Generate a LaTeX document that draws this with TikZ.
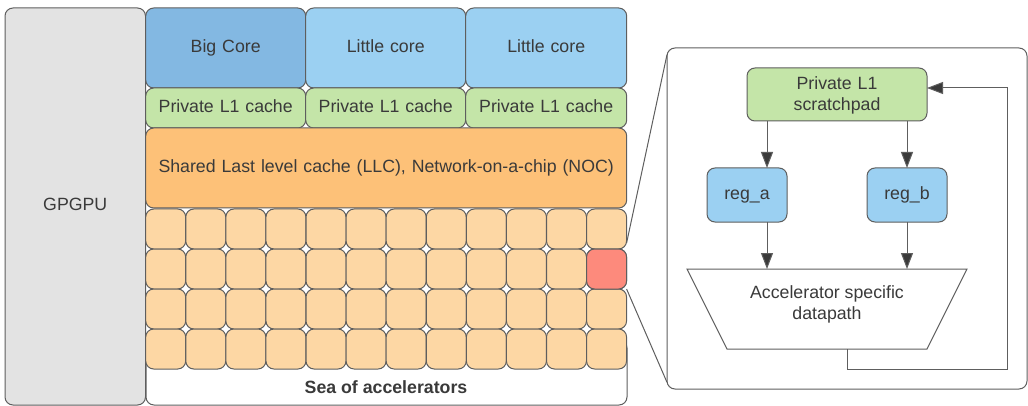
\documentclass[tikz,border=0pt]{standalone}
\usepackage{fontspec}
\setmainfont{Liberation Sans}
\usetikzlibrary{arrows.meta,calc}
\definecolor{edge}{HTML}{5E5E5E}
\definecolor{ink}{HTML}{3A3A3A}
\definecolor{cgrey}{HTML}{E3E3E3}
\definecolor{cbig}{HTML}{83B8E2}
\definecolor{clit}{HTML}{9BD0F2}
\definecolor{cgrn}{HTML}{C4E5A8}
\definecolor{corg}{HTML}{FDC178}
\definecolor{ccell}{HTML}{FDD7A4}
\definecolor{cred}{HTML}{FD8A7C}
\tikzset{
  x=0.75pt,y=-0.75pt,
  textstyle/.style={inner sep=0pt,outer sep=0pt,align=center,text=ink,font=\fontsize{13.3}{15.9}\selectfont},
  blockbox/.style={textstyle,draw=edge,line width=0.75pt,rounded corners=6pt,anchor=north west,execute at begin node=\strut},
  sized/.style 2 args={minimum width=#1*0.75pt,minimum height=#2*0.75pt,text width=#1*0.75pt},
  cell/.style={blockbox,sized={40}{40},fill=ccell},
  link/.style={draw=edge,line width=0.75pt},
  flow/.style={link,-{Triangle[length=12pt,width=9pt,fill=ink]}},
}
\begin{document}
\begin{tikzpicture}
\useasboundingbox (0,0) rectangle (1028,406);
\node[blockbox,sized={140.5}{397},fill=cgrey] (gpgpu) at (5,8) {GPGPU};
\node[blockbox,sized={481}{65},fill=white] (sea) at (146,340) {};
\node[textstyle,font=\fontsize{13.3}{15.9}\selectfont\bfseries] (sealabel) at (386,387) {Sea of accelerators};
\node[blockbox,sized={160}{80},fill=cbig] (big) at (145.7,8) {Big Core};
\node[blockbox,sized={160}{80},fill=clit] (lit1) at (305.7,8) {Little core};
\node[blockbox,sized={161}{80},fill=clit] (lit2) at (465.7,8) {Little core};
\node[blockbox,sized={160}{40},fill=cgrn] (l1a) at (145.7,88) {Private L1 cache};
\node[blockbox,sized={160}{40},fill=cgrn] (l1b) at (305.7,88) {Private L1 cache};
\node[blockbox,sized={161}{40},fill=cgrn] (l1c) at (465.7,88) {Private L1 cache};
\node[blockbox,sized={481}{80},fill=corg] (llc) at (145.7,128) {Shared Last level cache (LLC), Network-on-a-chip (NOC)};
\foreach \r in {0,1,2,3}{
  \foreach \c in {0,...,11}{
    \node[cell] (c\r-\c) at ({145.7+40.08*\c},{209+40*\r}) {};
  }
}
\node[cell,fill=cred] (hot) at ({145.7+40.08*11},249) {};
\node[blockbox,sized={360}{341},fill=white] (panel) at (667,48) {};
\draw[link] ([yshift=4.5pt]hot.north east) -- ([yshift=-5pt]panel.north west);
\draw[link] (hot.south east) -- ([yshift=5pt]panel.south west);
\node[blockbox,sized={180}{53},fill=cgrn] (spad) at (747,68) {Private L1\\scratchpad};
\node[blockbox,sized={80}{54},fill=clit] (rega) at (707,168) {reg\_a};
\node[blockbox,sized={80}{54},fill=clit] (regb) at (867,168) {reg\_b};
\node[textstyle] (dp) at (827,304.5) {Accelerator specific\\datapath};
\draw[link] (687,269) coordinate (dtl) -- (967,269) coordinate (dtr) -- (927,349) coordinate (dbr) -- (727,349) coordinate (dbl) -- cycle;
\coordinate (loopa) at (847,369);
\coordinate (loopb) at (1007,369);
\coordinate (loopc) at (1007,88);
\draw[flow] ([xshift=15pt]spad.south west) -- ([xshift=45pt]rega.north west);
\draw[flow] ([xshift=-15pt]spad.south east) -- ([xshift=30pt]regb.north west);
\draw[flow] ([xshift=45pt]rega.south west) -- ([xshift=45pt]rega.south west |- dtl);
\draw[flow] ([xshift=30pt]regb.south west) -- ([xshift=30pt]regb.south west |- dtl);
\draw[flow] (dbl -| loopa) -- (loopa) -- (loopb) -- (loopc) -- (spad.east |- loopc);
\end{tikzpicture}
\end{document}
